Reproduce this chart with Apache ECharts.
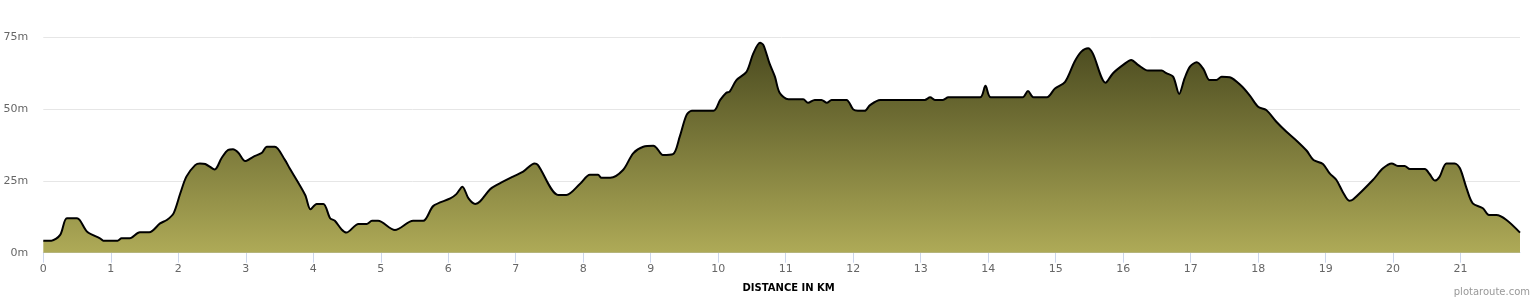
<!DOCTYPE html>
<html>
<head>
<meta charset="utf-8">
<script src="https://cdn.jsdelivr.net/npm/echarts@6/dist/echarts.min.js"></script>
<style>
  html, body { margin: 0; padding: 0; background: #fff; }
  #chart { width: 1540px; height: 300px; }
</style>
</head>
<body>
<div id="chart"></div>
<script>
const distanceKm = [
  0, 0.12, 0.25, 0.35, 0.5, 0.65, 0.84, 0.89, 1.1, 1.16,
  1.28, 1.43, 1.57, 1.73, 1.83, 1.93, 2.03, 2.12, 2.25, 2.32,
  2.4, 2.54, 2.64, 2.74, 2.81, 2.89, 2.99, 3.11, 3.24, 3.31,
  3.43, 3.58, 3.65, 3.88, 3.96, 4.05, 4.15, 4.25, 4.32, 4.42,
  4.49, 4.67, 4.79, 4.87, 4.96, 5.21, 5.48, 5.63, 5.78, 6.03,
  6.12, 6.21, 6.3, 6.4, 6.47, 6.62, 6.72, 6.96, 7.11, 7.28,
  7.33, 7.63, 7.75, 7.95, 8.1, 8.22, 8.27, 8.4, 8.59, 8.74,
  8.89, 9.04, 9.09, 9.18, 9.33, 9.43, 9.53, 9.61, 9.93, 10.03,
  10.12, 10.17, 10.27, 10.42, 10.52, 10.62, 10.67, 10.76, 10.84, 10.91,
  11.04, 11.26, 11.33, 11.43, 11.53, 11.61, 11.68, 11.9, 12, 12.07,
  12.17, 12.25, 12.4, 13.06, 13.14, 13.21, 13.33, 13.41, 13.88, 13.96,
  14.04, 14.51, 14.59, 14.67, 14.87, 14.99, 15.14, 15.28, 15.38, 15.48,
  15.55, 15.74, 15.85, 16, 16.12, 16.22, 16.37, 16.57, 16.64, 16.74,
  16.83, 16.91, 16.99, 17.09, 17.19, 17.28, 17.38, 17.46, 17.58, 17.75,
  17.88, 18, 18.12, 18.27, 18.42, 18.57, 18.72, 18.82, 18.96, 19.06,
  19.16, 19.26, 19.35, 19.41, 19.7, 19.85, 19.98, 20.07, 20.17, 20.25,
  20.47, 20.54, 20.62, 20.69, 20.79, 20.91, 20.99, 21.09, 21.18, 21.33,
  21.42, 21.53, 21.68, 21.88
];
const elevationM = [
  4.2, 4.2, 6.2, 12, 12, 7.3, 5, 4.2, 4.2, 5,
  5, 7.1, 7.1, 10.2, 11.4, 13.7, 20.7, 26.5, 30.5, 31.1,
  30.9, 29, 32.9, 35.8, 36, 34.8, 31.9, 33.4, 34.8, 36.9,
  36.9, 32.3, 29.4, 20.1, 15.1, 17, 17, 12, 11.1, 8.1,
  7, 10, 10, 11.1, 11.1, 7.9, 11.1, 11.1, 16.3, 18.9,
  20.4, 23, 18.9, 17, 17.8, 22.1, 23.6, 26.5, 28.2, 31.1,
  30.5, 20.1, 20.1, 23.9, 27.1, 27.1, 26.1, 26.1, 28.8, 34.6,
  36.9, 37.2, 36.4, 34, 34.3, 40.4, 47.9, 49.4, 49.4, 53.2,
  55.7, 56.1, 60.1, 63, 69.4, 73.1, 72.3, 65.9, 61.3, 55.7,
  53.4, 53.4, 52.2, 53.2, 53.2, 52.2, 53.2, 53.2, 49.9, 49.4,
  49.4, 51.4, 53.2, 53.2, 54.1, 53.2, 53.2, 54.1, 54.1, 58.1,
  54.1, 54.1, 56.3, 54.1, 54.1, 57.2, 59.5, 66.5, 70, 71.2,
  69.4, 59.2, 62.5, 65.4, 67.1, 65.4, 63.4, 63.4, 62.5, 61.3,
  55.3, 60.7, 64.8, 66.3, 63.9, 60.1, 60.1, 61.3, 61.1, 58.1,
  54.6, 50.8, 49.7, 45.6, 42.1, 39, 35.5, 32.3, 30.9, 27.6,
  25.3, 20.9, 18.1, 18.6, 25.3, 29.4, 31.1, 30.2, 30.2, 29.1,
  29.1, 27.4, 25.1, 26.5, 31.1, 31.1, 29.4, 22.3, 17.2, 15.5,
  13.1, 13.1, 11.4, 7
];
const xTicks = [0,1,2,3,4,5,6,7,8,9,10,11,12,13,14,15,16,17,18,19,20,21];
const yTicks = [0, 25, 50, 75];
const xAxisTitle = 'DISTANCE IN KM';
const credit = 'plotaroute.com';

const points = distanceKm.map((d, i) => [d, elevationM[i]]);

const chart = echarts.init(document.getElementById('chart'), null, { renderer: 'canvas' });
chart.setOption({
  animation: false,
  backgroundColor: '#ffffff',
  grid: { left: 43.3, right: 20, top: 37.3, bottom: 47.3, containLabel: false },
  xAxis: {
    type: 'value',
    min: 0,
    max: distanceKm[distanceKm.length - 1],
    interval: 1,
    name: xAxisTitle,
    nameLocation: 'middle',
    nameGap: 31,
    nameTextStyle: { fontFamily: 'DejaVu Sans', fontSize: 10, fontWeight: 'bold', color: '#000', padding: [0, 0, 0, 14] },
    axisLine: { show: true, lineStyle: { color: '#ccd6eb', width: 1 } },
    axisTick: { show: true, length: 10, lineStyle: { color: '#ccd6eb' }, customValues: xTicks },
    axisLabel: { customValues: xTicks, color: '#666', fontFamily: 'DejaVu Sans', fontSize: 11, margin: 11 },
    splitLine: { show: false }
  },
  yAxis: {
    type: 'value',
    min: yTicks[0],
    max: yTicks[yTicks.length - 1],
    interval: 25,
    axisLine: { show: false },
    axisTick: { show: false },
    axisLabel: { formatter: '{value}m', color: '#666', fontFamily: 'DejaVu Sans', fontSize: 11, margin: 15 },
    splitLine: { show: true, lineStyle: { color: '#e6e6e6', width: 1 } }
  },
  graphic: [{
    type: 'text',
    right: 10,
    top: 287,
    style: { text: credit, fill: '#999', font: '10px "DejaVu Sans"' }
  }],
  series: [{
    type: 'line',
    data: points,
    smooth: 0.3,
    showSymbol: false,
    symbol: 'none',
    lineStyle: { color: '#000', width: 2 },
    areaStyle: {
      origin: 'start',
      opacity: 1,
      color: new echarts.graphic.LinearGradient(0, 0, 0, 1, [
        { offset: 0, color: '#4a4a1f' },
        { offset: 1, color: '#aeaa57' }
      ])
    }
  }]
});
</script>
</body>
</html>
